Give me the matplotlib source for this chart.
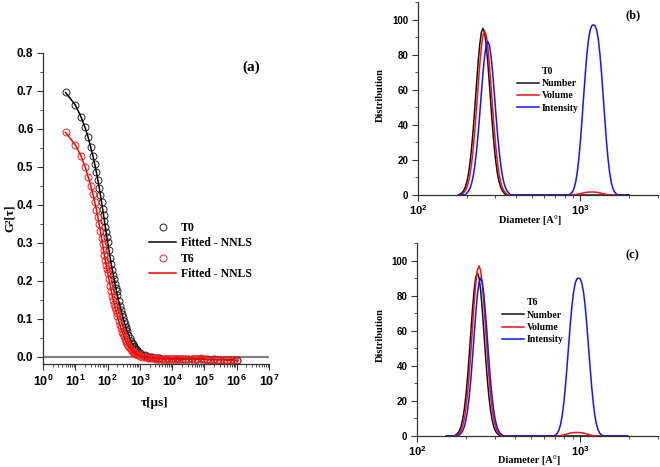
import matplotlib
matplotlib.use('Agg')
import matplotlib.pyplot as plt
from matplotlib.ticker import MultipleLocator, LogLocator, NullFormatter, FixedLocator, FixedFormatter

plt.rcParams['font.family'] = 'Liberation Sans'
plt.rcParams['font.weight'] = 'bold'
plt.rcParams['mathtext.fontset'] = 'custom'
plt.rcParams['mathtext.rm'] = 'Liberation Sans:bold'
plt.rcParams['mathtext.bf'] = 'Liberation Sans:bold'
plt.rcParams['mathtext.it'] = 'Liberation Sans:bold'

# ---- (a) correlation functions ----
tau = [5, 10, 15, 20, 25, 30, 35, 40, 45, 50, 55, 60, 65, 70, 75, 80, 85, 90, 95, 100,
       110, 120, 130, 140, 150, 160, 170, 180, 190, 200,
       220, 240, 260, 280, 300, 320, 340, 360, 380, 400,
       440, 480, 520, 560, 600, 640, 680, 720, 760, 800,
       900, 1000, 1200, 1400, 1600, 1800, 2000, 2400, 2800, 3200, 3600, 4000,
       5000, 6000, 7000, 8000, 10000, 12000, 14000, 16000, 20000, 25000, 30000,
       40000, 50000, 60000, 80000, 100000, 120000, 150000, 200000, 250000,
       300000, 400000, 500000, 600000, 800000, 1000000]

g2_t0 = [0.696, 0.663, 0.632, 0.604, 0.578, 0.552, 0.529, 0.507, 0.486, 0.465,
         0.445, 0.426, 0.408, 0.390, 0.373, 0.357, 0.342, 0.328, 0.315, 0.303,
         0.281, 0.261, 0.244, 0.229, 0.216, 0.204, 0.192, 0.182, 0.173, 0.163,
         0.148, 0.135, 0.124, 0.113, 0.104, 0.095, 0.087, 0.080, 0.074, 0.068,
         0.059, 0.051, 0.043, 0.038, 0.033, 0.029, 0.025, 0.022, 0.020, 0.018,
         0.013, 0.010, 0.006, 0.004, 0.002, 0.001, 0.000, -0.001, -0.002, -0.003,
         -0.003, -0.003, -0.004, -0.004, -0.004, -0.005, -0.005, -0.004, -0.005,
         -0.005, -0.005, -0.005, -0.006, -0.005, -0.006, -0.006, -0.005, -0.006,
         -0.006, -0.007, -0.006, -0.007, -0.007, -0.007, -0.008, -0.007, -0.008, -0.009]

g2_t6 = [0.591, 0.558, 0.529, 0.501, 0.474, 0.451, 0.429, 0.408, 0.388, 0.368,
         0.349, 0.331, 0.313, 0.297, 0.282, 0.268, 0.255, 0.243, 0.232, 0.222,
         0.204, 0.188, 0.174, 0.161, 0.150, 0.140, 0.131, 0.123, 0.115, 0.108,
         0.095, 0.084, 0.075, 0.067, 0.060, 0.054, 0.048, 0.043, 0.039, 0.035,
         0.029, 0.024, 0.020, 0.017, 0.014, 0.012, 0.010, 0.009, 0.008, 0.007,
         0.005, 0.003, 0.001, 0.000, -0.001, -0.002, -0.002, -0.003, -0.003, -0.004,
         -0.004, -0.004, -0.005, -0.005, -0.005, -0.005, -0.006, -0.005, -0.006,
         -0.005, -0.006, -0.006, -0.006, -0.006, -0.006, -0.005, -0.003, -0.006,
         -0.007, -0.007, -0.007, -0.008, -0.007, -0.008, -0.008, -0.008, -0.009, -0.010]

tau_ticks = [1, 10, 100, 1000, 1e4, 1e5, 1e6, 1e7]
tau_labels = [r'$\mathbf{10^{0}}$', r'$\mathbf{10^{1}}$', r'$\mathbf{10^{2}}$', r'$\mathbf{10^{3}}$',
              r'$\mathbf{10^{4}}$', r'$\mathbf{10^{5}}$', r'$\mathbf{10^{6}}$', r'$\mathbf{10^{7}}$']

# ---- (b) T0 size distributions ----
diam_b1 = [186.2, 190.5, 195.0, 199.5, 204.2, 208.9, 213.8, 218.8, 223.9, 229.1,
           234.4, 239.9, 245.5, 251.2, 257.0, 263.0, 269.2, 275.4, 281.8, 288.4,
           295.1, 302.0, 309.0, 316.2, 323.6, 331.1, 338.8, 346.7, 354.8, 363.1, 371.5]
diam_b2 = [831.8, 851.1, 871.0, 891.3, 912.0, 933.3, 955.0, 977.2, 1000, 1023,
           1047, 1072, 1096, 1122, 1148, 1175, 1202, 1230, 1259, 1288, 1318,
           1349, 1380, 1413, 1445, 1479, 1514, 1549, 1585, 1622, 1660, 1698, 1738]
number_b1 = [1.2, 2.3, 4.2, 7.2, 11.7, 18.2, 26.8, 37.5, 49.8, 62.8, 75.3, 85.7, 92.6, 95.0,
             92.6, 85.7, 75.3, 62.8, 49.8, 37.5, 26.8, 18.2, 11.7, 7.2, 4.2, 2.3, 1.2, 0, 0, 0, 0]
volume_b1 = [0, 1.2, 2.3, 4.1, 7.1, 11.5, 17.9, 26.4, 36.9, 49.0, 61.9, 74.1, 84.3, 91.1, 93.5,
             91.1, 84.3, 74.1, 61.9, 49.0, 36.9, 26.4, 17.9, 11.5, 7.1, 4.1, 2.3, 1.2, 0, 0, 0]
intens_b1 = [0, 0, 0, 1.1, 2.1, 3.8, 6.6, 10.8, 16.8, 24.7, 34.5, 45.9, 57.9, 69.4, 78.9, 85.3,
             87.5, 85.3, 78.9, 69.4, 57.9, 45.9, 34.5, 24.7, 16.8, 10.8, 6.6, 3.8, 2.1, 1.1, 0]
number_b2 = [0] * 33
volume_b2 = [0, 0, 0, 0.06, 0.12, 0.22, 0.36, 0.54, 0.76, 0.99, 1.21, 1.41, 1.56, 1.65, 1.69,
             1.70, 1.69, 1.65, 1.56, 1.41, 1.21, 0.99, 0.76, 0.54, 0.36, 0.22, 0.12, 0.06,
             0, 0, 0, 0, 0]
intens_b2 = [0, 0, 0.7, 1.7, 3.7, 7.1, 12.6, 20.6, 30.9, 43.3, 56.5, 69.3, 80.3, 88.8, 94.0, 96.5,
             97.0, 96.5, 94.0, 88.8, 80.3, 69.3, 56.5, 43.3, 30.9, 20.6, 12.6, 7.1, 3.7, 1.7, 0.7, 0, 0]

# ---- (c) T6 size distributions ----
diam_c1 = [169.8, 173.8, 177.8, 182.0, 186.2, 190.5, 195.0, 199.5, 204.2, 208.9, 213.8,
           218.8, 223.9, 229.1, 234.4, 239.9, 245.5, 251.2, 257.0, 263.0, 269.2, 275.4,
           281.8, 288.4, 295.1, 302.0, 309.0, 316.2, 323.6, 331.1, 338.8]
diam_c2 = [691.8, 707.9, 724.4, 741.3, 758.6, 776.2, 794.3, 812.8, 831.8, 851.1, 871.0,
           891.3, 912.0, 933.3, 955.0, 977.2, 1000, 1023, 1047, 1072, 1096, 1122, 1148,
           1175, 1202, 1230, 1259, 1288, 1318, 1349, 1380, 1413]
number_c1 = [0, 0.8, 1.6, 3.0, 5.5, 9.4, 15.2, 23.2, 33.5, 45.8, 59.1, 72.1, 83.0, 90.4, 93.0,
             90.4, 83.0, 72.1, 59.1, 45.8, 33.5, 23.2, 15.2, 9.4, 5.5, 3.0, 1.6, 0.8, 0, 0, 0]
volume_c1 = [0, 0, 0.8, 1.6, 3.1, 5.7, 9.8, 15.8, 24.2, 35.0, 47.8, 61.6, 75.2, 86.6, 94.3, 97.0,
             94.3, 86.6, 75.2, 61.6, 47.8, 35.0, 24.2, 15.8, 9.8, 5.7, 3.1, 1.6, 0.8, 0, 0]
intens_c1 = [0, 0, 0, 0.7, 1.5, 2.9, 5.3, 9.1, 14.7, 22.4, 32.4, 44.3, 57.2, 69.7, 80.4, 87.5,
             90.0, 87.5, 80.4, 69.7, 57.2, 44.3, 32.4, 22.4, 14.7, 9.1, 5.3, 2.9, 1.5, 0.7, 0]
number_c2 = [0] * 32
volume_c2 = [0, 0, 0.08, 0.15, 0.26, 0.42, 0.64, 0.89, 1.16, 1.43, 1.66, 1.83, 1.94, 1.99, 2.0,
             1.99, 1.94, 1.83, 1.66, 1.43, 1.16, 0.89, 0.64, 0.42, 0.26, 0.15, 0.08, 0, 0, 0, 0, 0]
intens_c2 = [0, 0.7, 1.6, 3.4, 6.6, 11.7, 19.1, 28.7, 40.1, 52.4, 64.3, 74.5, 82.4, 87.2, 89.6,
             90.0, 89.6, 87.2, 82.4, 74.5, 64.3, 52.4, 40.1, 28.7, 19.1, 11.7, 6.6, 3.4, 1.6, 0.7, 0, 0]

diam_b = [177.8] + diam_b1 + diam_b2 + [1995]
diam_c = [151.4] + diam_c1 + diam_c2 + [1950]
series_b = {'Number': [0] + number_b1 + number_b2 + [0],
            'Volume': [0] + volume_b1 + volume_b2 + [0],
            'Intensity': [0] + intens_b1 + intens_b2 + [0]}
series_c = {'Number': [0] + number_c1 + number_c2 + [0],
            'Volume': [0] + volume_c1 + volume_c2 + [0],
            'Intensity': [0] + intens_c1 + intens_c2 + [0]}
dist_ticks = [100, 1000]
dist_labels = [r'$\mathbf{10^{2}}$', r'$\mathbf{10^{3}}$']

colors = {'Number': '#111111', 'Volume': '#ff1010', 'Intensity': '#1414ff'}
serif = dict(family='Liberation Serif', weight='bold')


def style(ax):
    for s in ['top', 'right']:
        ax.spines[s].set_visible(False)
    for s in ['left', 'bottom']:
        ax.spines[s].set_color('#333333')
        ax.spines[s].set_linewidth(0.9)
    ax.tick_params(which='major', direction='out', length=4, width=0.8, color='#333333')
    ax.tick_params(which='minor', direction='out', length=2, width=0.6, color='#333333')


fig = plt.figure(figsize=(6.6, 4.67), dpi=100)

# panel (a)
ax = fig.add_axes([0.0652, 0.2206, 0.3424, 0.6660])
style(ax)
ax.axhline(0, color='#808080', lw=1.6, zorder=0)
h1, = ax.plot(tau, g2_t0, 'o', mfc='none', mec='#222222', ms=5, mew=0.7, label='T0')
h2, = ax.plot(tau, g2_t0, '-', color='black', lw=1.1, label='Fitted - NNLS')
h3, = ax.plot(tau, g2_t6, 'o', mfc='none', mec='#ff2020', ms=5, mew=0.7, label='T6')
h4, = ax.plot(tau, g2_t6, '-', color='#ff0000', lw=1.1, label='Fitted - NNLS')
ax.set_xscale('log')
ax.set_xlim(1, 1e7)
ax.set_ylim(-0.0184, 0.8)
ax.xaxis.set_major_locator(FixedLocator(tau_ticks))
ax.xaxis.set_major_formatter(FixedFormatter(tau_labels))
ax.xaxis.set_minor_locator(LogLocator(base=10, subs=range(2, 10), numticks=20))
ax.xaxis.set_minor_formatter(NullFormatter())
ax.yaxis.set_major_locator(MultipleLocator(0.1))
ax.yaxis.set_minor_locator(MultipleLocator(0.05))
ax.tick_params(axis='y', labelsize=8.5, pad=3)
ax.tick_params(axis='x', labelsize=9, pad=3)
fig.legend(handles=[h1, h2, h3, h4], loc='upper left', bbox_to_anchor=(0.2167, 0.538),
           frameon=False, prop=dict(size=8.5, **serif), borderpad=0, handlelength=2.3,
           handletextpad=0.4, labelspacing=0.3, numpoints=1)
fig.text(0.380, 0.8565, '(a)', fontsize=11, ha='center', va='center', **serif)
fig.text(10 / 660, 1 - 218 / 467, 'G²[τ]', rotation=90, fontsize=9, ha='center', va='center', **serif)
fig.text(155 / 660, 1 - 403 / 467, 'τ[µs]', fontsize=9.5, ha='center', va='center', **serif)

# panels (b) and (c)
panels = [([0.6333, 0.5824, 0.3636, 0.4133], diam_b, series_b, 'T0', '(b)', (633, 15),
           (0.7758, 0.868), (380, 95), (530, 220)),
          ([0.6318, 0.0664, 0.3652, 0.4133], diam_c, series_c, 'T6', '(c)', (632, 255),
           (0.753, 0.372), (380, 335), (529, 460))]
for rect, diam, series, title, tag, tagpos, legpos, ylpos, xlpos in panels:
    ax = fig.add_axes(rect)
    style(ax)
    handles = []
    for name in ['Number', 'Volume', 'Intensity']:
        h, = ax.plot(diam, series[name], color=colors[name], lw=1.1, label=name)
        handles.append(h)
    ax.set_xscale('log')
    ax.set_xlim(100, 3000)
    ax.set_ylim(0, 110)
    ax.xaxis.set_major_locator(FixedLocator(dist_ticks))
    ax.xaxis.set_major_formatter(FixedFormatter(dist_labels))
    ax.xaxis.set_minor_locator(LogLocator(base=10, subs=range(2, 10), numticks=20))
    ax.xaxis.set_minor_formatter(NullFormatter())
    ax.yaxis.set_major_locator(MultipleLocator(20))
    ax.yaxis.set_minor_locator(MultipleLocator(10))
    ax.tick_params(axis='y', labelsize=7, pad=3)
    ax.tick_params(axis='x', labelsize=8, pad=2)
    fig.legend(handles=handles, loc='upper left', bbox_to_anchor=legpos, frameon=False,
               prop=dict(size=7, **serif), title=title,
               title_fontproperties=dict(size=7, **serif), borderpad=0,
               handlelength=2.3, handletextpad=0.25, labelspacing=0.35)
    fig.text(tagpos[0] / 660, 1 - tagpos[1] / 467, tag, fontsize=9, ha='center', va='center', **serif)
    fig.text(ylpos[0] / 660, 1 - ylpos[1] / 467, 'Distribution', rotation=90, fontsize=7.5,
             ha='center', va='center', **serif)
    fig.text(xlpos[0] / 660, 1 - xlpos[1] / 467, 'Diameter [A°]', fontsize=7.5,
             ha='center', va='center', **serif)

fig.savefig('out.png', dpi=100)
